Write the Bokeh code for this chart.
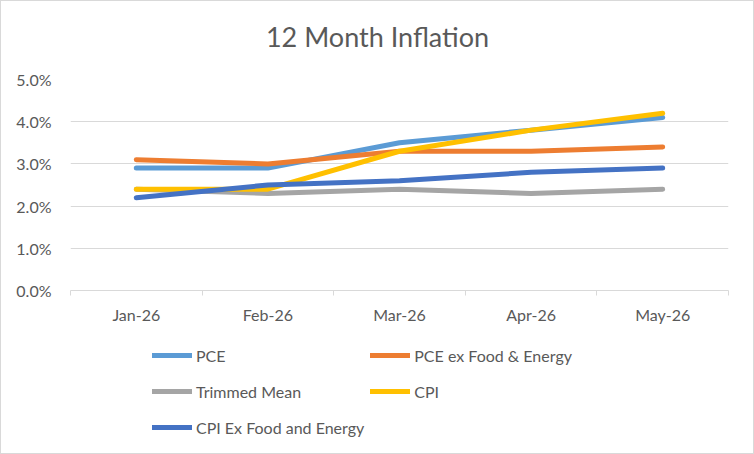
from bokeh.plotting import figure
from bokeh.layouts import column
from bokeh.models import FixedTicker, PrintfTickFormatter, Legend, LegendItem, Range1d, Label
from bokeh.embed import file_html
from bokeh.resources import INLINE

# 12-month inflation rates (%), by month
months = ["Jan-26", "Feb-26", "Mar-26", "Apr-26", "May-26"]
pce = [2.9, 2.9, 3.5, 3.8, 4.1]
pce_core = [3.1, 3.0, 3.3, 3.3, 3.4]
trimmed_mean = [2.4, 2.3, 2.4, 2.3, 2.4]
cpi = [2.4, 2.4, 3.3, 3.8, 4.2]
cpi_core = [2.2, 2.5, 2.6, 2.8, 2.9]
y_ticks = [0, 1, 2, 3, 4, 5]

series = [
    ("PCE", pce, "#5B9BD5"),
    ("PCE ex Food & Energy", pce_core, "#ED7D31"),
    ("Trimmed Mean", trimmed_mean, "#A5A5A5"),
    ("CPI", cpi, "#FFC000"),
    ("CPI Ex Food and Energy", cpi_core, "#4472C4"),
]

FONT = "Lato"
TEXT = "#595959"
GRID = "#D9D9D9"
LINE_W = 5
WIDTH = 752

xs = list(range(len(months)))


def strip(height):
    """A bare, axis-less panel used for the title and the legend."""
    f = figure(
        width=WIDTH, height=height,
        output_backend="svg", toolbar_location=None,
        x_range=Range1d(0, 1), y_range=Range1d(0, 1),
        x_axis_type=None, y_axis_type=None,
        min_border=0, frame_align=False,
    )
    f.outline_line_color = None
    f.grid.visible = False
    return f


# --- title ------------------------------------------------------------------
head = strip(66)
head.add_layout(Label(
    x=0.5, y=0.47, text="12 Month Inflation",
    text_align="center", text_baseline="middle",
    text_font=FONT, text_font_size="27px", text_color=TEXT,
))

# --- main chart -------------------------------------------------------------
p = figure(
    width=WIDTH, height=269,
    output_backend="svg", toolbar_location=None,
    x_range=Range1d(-0.5, len(months) - 0.5),
    y_range=Range1d(0, 5),
    min_border_left=69, min_border_right=25,
    min_border_top=12, min_border_bottom=46,
)
p.outline_line_color = None

# x axis: month labels centred, tick marks between categories
p.xaxis.ticker = FixedTicker(ticks=xs, minor_ticks=[i - 0.5 for i in range(len(months) + 1)])
p.xaxis.major_label_overrides = {i: m for i, m in enumerate(months)}
p.xaxis.major_tick_line_color = None
p.xaxis.minor_tick_line_color = GRID
p.xaxis.minor_tick_out = 5
p.xaxis.minor_tick_in = 0
p.xaxis.axis_line_color = GRID
p.xaxis.major_label_text_font = FONT
p.xaxis.major_label_text_font_size = "16px"
p.xaxis.major_label_text_color = TEXT
p.xaxis.major_label_standoff = 8

p.yaxis.ticker = FixedTicker(ticks=y_ticks)
p.yaxis.formatter = PrintfTickFormatter(format="%.1f%%")
p.yaxis.axis_line_color = None
p.yaxis.major_tick_line_color = None
p.yaxis.minor_tick_line_color = None
p.yaxis.major_label_text_font = FONT
p.yaxis.major_label_text_font_size = "16px"
p.yaxis.major_label_text_color = TEXT
p.yaxis.major_label_standoff = 13

p.xgrid.grid_line_color = None
p.ygrid.grid_line_color = GRID
p.ygrid.ticker = FixedTicker(ticks=y_ticks)

for name, vals, color in series:
    p.line(xs, vals, line_color=color, line_width=LINE_W, line_cap="round", line_join="round")

# --- legend strip under the chart ------------------------------------------
leg = strip(117)
leg.y_range = Range1d(-2, -1)  # keeps the proxy lines out of view; only their legend swatches show

items = []
for name, vals, color in series:
    r = leg.line(xs, vals, line_color=color, line_width=LINE_W, line_cap="round")
    items.append(LegendItem(label=name, renderers=[r]))

legend = Legend(
    items=items, ncols=2, orientation="horizontal",
    location=(151, 11),
    glyph_width=40, glyph_height=30, label_height=30,
    label_standoff=4, spacing=6,
    padding=0, margin=0,
    border_line_color=None, background_fill_alpha=0,
    label_text_font=FONT, label_text_font_size="16px", label_text_color=TEXT,
)
leg.add_layout(legend, "center")

layout = column(head, p, leg, spacing=0, styles={"border": "1px solid #D9D9D9"})

open("out.html", "w").write(file_html(layout, INLINE))
